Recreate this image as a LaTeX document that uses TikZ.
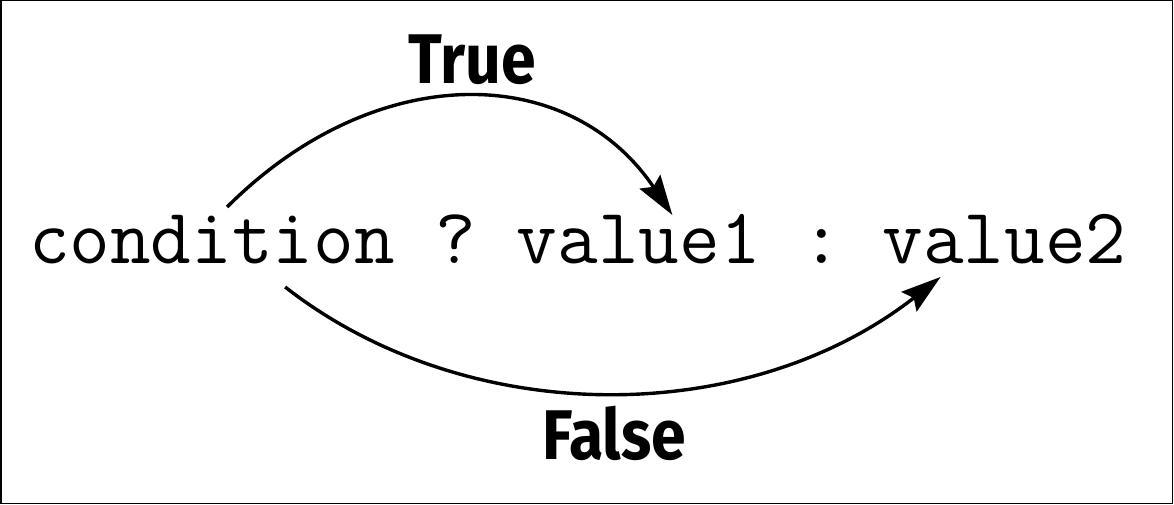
\documentclass[tikz,border=0pt]{standalone}
\usepackage{fontspec}
\usetikzlibrary{positioning, arrows.meta}
\newfontfamily\labelfont[FakeStretch=0.89]{Fira Sans}

\begin{document}
\begin{tikzpicture}[x=0.025cm, y=-0.025cm,
    code/.style={font=\ttfamily\fontsize{56.13}{68}\selectfont, inner xsep=0pt, inner ysep=0.25cm, outer sep=0pt},
    answer/.style={font=\labelfont\bfseries\fontsize{50}{60}\selectfont, inner sep=0pt},
    flow/.style={-{Stealth[length=1cm, width=0.62cm, inset=0.15cm]}, line width=0.085cm},
    node distance=0pt]
  \useasboundingbox (0, 0) rectangle (1174, 505);

  % Frame
  \draw [line width=0.0375cm] (0.75, 0.75) rectangle (1172.5, 503.5);

  % The expression, one node per word
  \node [code, anchor=base west] (cond) at (29, 263) {condition};
  \node [code, base right=of cond] (qmark) {\hphantom{?}?\hphantom{?}};
  \node [code, base right=of qmark] (valtrue) {value1};
  \node [code, base right=of valtrue] (colon) {\hphantom{:}:\hphantom{:}};
  \node [code, base right=of colon] (valfalse) {value2};

  % True branch
  \draw [flow] ([xshift=0.38cm, yshift=1.4cm]cond.base)
    to [out=45, in=124, out looseness=1.19, in looseness=1.07]
    node [answer, above=0.3cm, xshift=0.17cm] (truelbl) {True}
    ([xshift=0.84cm, yshift=1.2cm]valtrue.base);

  % False branch
  \draw [flow] ([xshift=1.83cm, yshift=-0.6cm]cond.base)
    to [out=-38, in=-142, out looseness=0.90, in looseness=0.96]
    node [answer, below=0.3cm, xshift=0.15cm] (falselbl) {False}
    ([xshift=-1.6cm, yshift=-0.35cm]valfalse.base);
\end{tikzpicture}
\end{document}
